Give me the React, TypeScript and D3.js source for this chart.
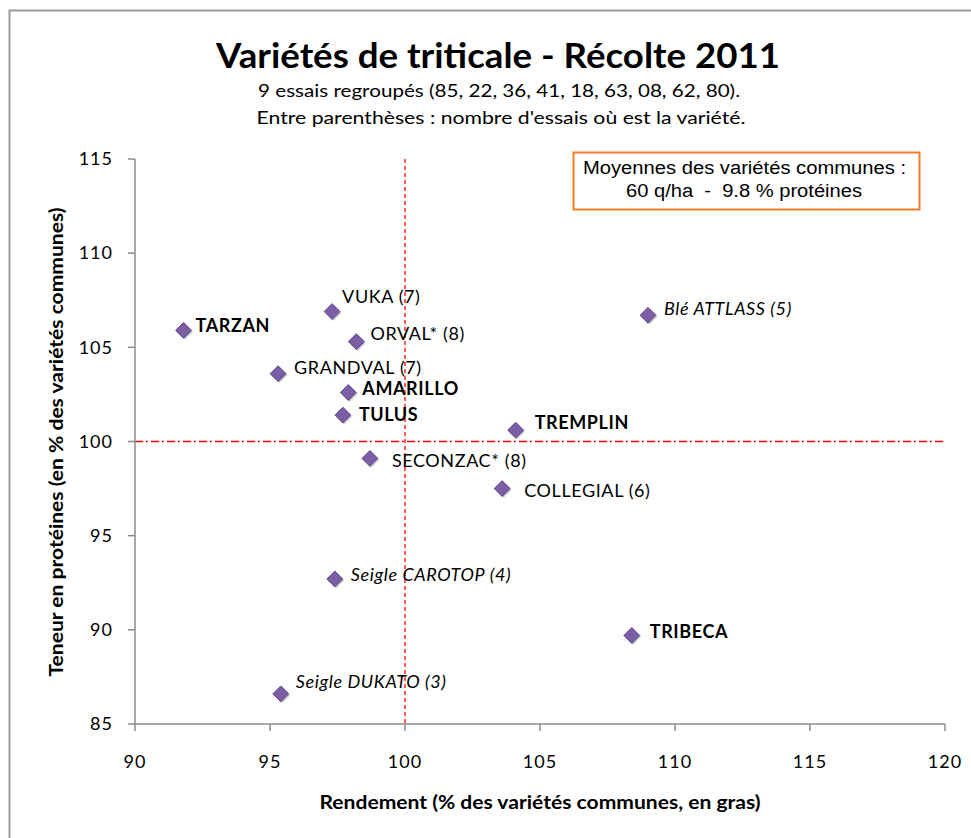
import React from 'react';
import * as d3 from 'd3';

// Data
const varieties = ['TARZAN', 'VUKA (7)', 'ORVAL* (8)', 'GRANDVAL (7)', 'AMARILLO', 'TULUS', 'SECONZAC* (8)', 'TREMPLIN', 'COLLEGIAL (6)', 'Blé ATTLASS (5)', 'Seigle CAROTOP (4)', 'TRIBECA', 'Seigle DUKATO (3)'];
const rendement = [91.8, 97.3, 98.2, 95.3, 97.9, 97.7, 98.7, 104.1, 103.6, 109.0, 97.4, 108.4, 95.4];
const proteines = [105.9, 106.9, 105.3, 103.6, 102.6, 101.4, 99.1, 100.6, 97.5, 106.7, 92.7, 89.7, 86.6];
// 'b' = common variety in bold, 'n' = normal, 'i' = italic (not in the reference set)
const labelStyle = ['b', 'n', 'n', 'n', 'b', 'b', 'n', 'b', 'n', 'i', 'i', 'b', 'i'];
const xTicks = [90, 95, 100, 105, 110, 115, 120];
const yTicks = [85, 90, 95, 100, 105, 110, 115];

// manual label placement, like the Excel original
const labelDx = [12, 10, 14, 16, 14, 16, 22, 19, 22, 16, 16, 18, 15];
const labelDy = [-5, -15, -8, -6, -4, 0, 2, -8, 2, -7, -4, -4, -12];

const W = 971;
const H = 838;
const FONT = 'Lato, "Open Sans", sans-serif';
const ARIAL = '"Liberation Sans", Arial, sans-serif';

const App = () => {
  const x = d3.scaleLinear().domain([90, 120]).range([135, 945]);
  const y = d3.scaleLinear().domain([85, 115]).range([724, 159]);
  const diamond = d3.symbol().type(d3.symbolDiamond2).size(160)();

  return (
    <svg width={W} height={H} style={{ position: 'absolute', left: 0, top: 0, background: '#fff' }} fontFamily={FONT}>
      <rect x={9.5} y={10.5} width={1000} height={900} fill="#fff" stroke="#9a9a9a" strokeWidth={2} />

      {/* titles */}
      <text x={498} y={68} textAnchor="middle" fontSize={35} fontWeight="bold" textLength={564} lengthAdjust="spacingAndGlyphs">
        Variétés de triticale - Récolte 2011
      </text>
      <text x={499} y={97} textAnchor="middle" fontSize={18} textLength={482} lengthAdjust="spacingAndGlyphs">
        9 essais regroupés (85, 22, 36, 41, 18, 63, 08, 62, 80).
      </text>
      <text x={501} y={124} textAnchor="middle" fontSize={18} textLength={489} lengthAdjust="spacingAndGlyphs">
        Entre parenthèses : nombre d'essais où est la variété.
      </text>

      {/* reference lines at 100 */}
      <line x1={x(100)} x2={x(100)} y1={y(115)} y2={y(85)} stroke="#ff0000" strokeWidth={1.3} strokeDasharray="4,3" />
      <line x1={x(90)} x2={x(120)} y1={y(100)} y2={y(100)} stroke="#ff0000" strokeWidth={1.3} strokeDasharray="8,3,2,3" />

      {/* axes */}
      <g stroke="#8c8c8c" strokeWidth={1.5}>
        <line x1={x(90)} x2={x(90)} y1={y(115)} y2={y(85)} />
        <line x1={x(90)} x2={x(120)} y1={y(85)} y2={y(85)} />
        {yTicks.map(t => (
          <line key={'yt' + t} x1={x(90) - 7} x2={x(90)} y1={y(t)} y2={y(t)} />
        ))}
        {xTicks.map(t => (
          <line key={'xt' + t} x1={x(t)} x2={x(t)} y1={y(85)} y2={y(85) + 7} />
        ))}
      </g>
      {yTicks.map(t => (
        <text key={'yl' + t} x={113} y={y(t)} dy="0.35em" textAnchor="end" fontSize={18} letterSpacing={1}>{t}</text>
      ))}
      {xTicks.map(t => (
        <text key={'xl' + t} x={x(t)} y={762} dy="0.35em" textAnchor="middle" fontSize={18} letterSpacing={1}>{t}</text>
      ))}

      <text x={540} y={809} textAnchor="middle" fontSize={18} fontWeight="bold" textLength={441} lengthAdjust="spacingAndGlyphs">
        Rendement (% des variétés communes, en gras)
      </text>
      <text transform="translate(63,442) rotate(-90)" textAnchor="middle" fontSize={18} fontWeight="bold" textLength={469} lengthAdjust="spacingAndGlyphs">
        Teneur en protéines (en % des variétés communes)
      </text>

      {/* averages box */}
      <rect x={573.5} y={152.5} width={346} height={57} fill="#fff" stroke="#f07c28" strokeWidth={2} />
      <text x={744.5} y={168} dy="0.35em" textAnchor="middle" fontSize={18} fontFamily={ARIAL} textLength={323} lengthAdjust="spacingAndGlyphs">
        Moyennes des variétés communes :
      </text>
      <text x={744} y={191} dy="0.35em" textAnchor="middle" fontSize={18} fontFamily={ARIAL} textLength={236} lengthAdjust="spacingAndGlyphs" style={{ whiteSpace: 'pre' }}>
        {'60 q/ha  -  9.8 % protéines'}
      </text>

      {/* points */}
      {varieties.map((name, i) => (
        <g key={name} transform={`translate(${x(rendement[i])},${y(proteines[i])})`}>
          <path d={diamond} transform="translate(1.5,1.5)" fill="#000" opacity={0.18} />
          <path d={diamond} fill="#7b5ea6" stroke="#5c4585" strokeWidth={1} />
          <text
            x={labelDx[i]}
            y={labelDy[i]}
            dy="0.35em"
            fontSize={18}
            letterSpacing={0.6}
            fontWeight={labelStyle[i] === 'b' ? 'bold' : 'normal'}
            fontStyle={labelStyle[i] === 'i' ? 'italic' : 'normal'}
          >
            {name}
          </text>
        </g>
      ))}
    </svg>
  );
};

export default App;
